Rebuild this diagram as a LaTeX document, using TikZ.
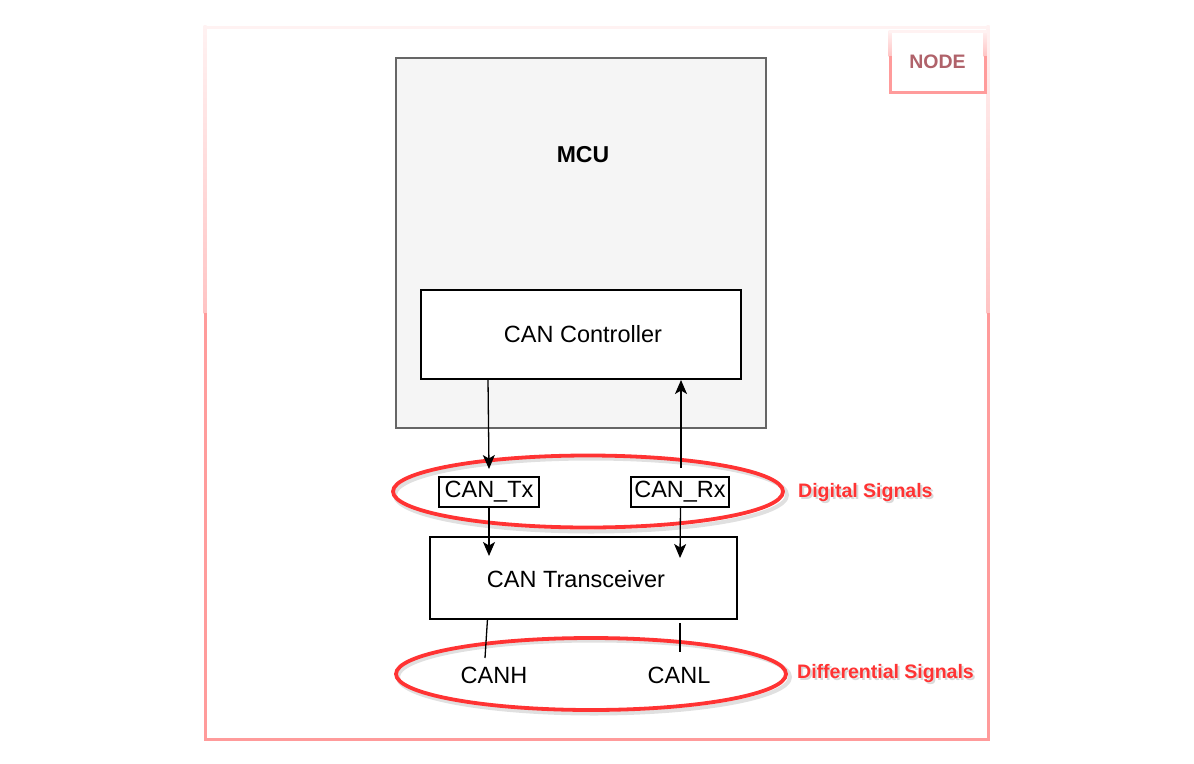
\documentclass[tikz,border=0pt]{standalone}
\usepackage{fontspec}
\setmainfont{Liberation Sans}
\usetikzlibrary{arrows.meta,shapes.geometric}
\definecolor{pinkb}{HTML}{FF9B9B}
\definecolor{pinkl}{HTML}{FFF2F2}
\definecolor{pinkm}{HTML}{FFC4C4}
\definecolor{sigred}{HTML}{FF3333}
\definecolor{nodetxt}{HTML}{B0626A}
\definecolor{mcufill}{HTML}{F5F5F5}
\definecolor{mculine}{HTML}{666666}
\tikzset{
  box/.style={draw=black,line width=1.3pt,fill=white,inner sep=0pt},
  lbl/.style={font=\fontsize{23.5}{26}\selectfont,inner sep=0pt},
  sig/.style={font=\fontsize{19.5}{22}\selectfont\bfseries,text=sigred,inner sep=0pt},
  sigsh/.style={font=\fontsize{19.5}{22}\selectfont\bfseries,text=black,opacity=0.15,inner sep=0pt},
  oval/.style={draw=sigred,line width=3.8pt},
  ovalsh/.style={draw=black,opacity=0.12,line width=4pt},
  arr/.style={-{Stealth[length=14pt,width=12pt,inset=3.5pt]},line width=1.3pt},
  wire/.style={line width=1.3pt}
}
\begin{document}
\begin{tikzpicture}[x=1pt,y=-1pt]
\useasboundingbox (0,0) rectangle (1194,763);
% outer frame with gradient
\shade[top color=pinkl,bottom color=pinkm] (203.5,25.5) rectangle (206.5,313);
\shade[top color=pinkl,bottom color=pinkm] (986.5,25.5) rectangle (989.5,313);
\fill[pinkb] (203.5,313) rectangle (206.5,740.5);
\fill[pinkb] (986.5,313) rectangle (989.5,740.5);
\fill[pinkb] (203.5,737.5) rectangle (989.5,740.5);
\fill[pinkl] (203.5,25.5) rectangle (989.5,28.5);
% NODE tag
\fill[white] (889,30) rectangle (986,92);
\shade[top color=pinkl,bottom color=pinkm] (888.5,30) rectangle (891.5,56);
\shade[top color=pinkl,bottom color=pinkm] (983.5,30) rectangle (986.5,56);
\fill[pinkb] (888.5,56) rectangle (891.5,93.5);
\fill[pinkb] (983.5,56) rectangle (986.5,93.5);
\fill[pinkb] (888.5,90.5) rectangle (986.5,93.5);
\fill[pinkl] (888.5,30) rectangle (986.5,33);
\node[font=\fontsize{19.5}{22}\selectfont\bfseries,text=nodetxt,inner sep=0pt] (tag) at (937.5,62) {NODE};
% MCU
\node[draw=mculine,fill=mcufill,line width=1.3pt,minimum width=370pt,minimum height=370pt,inner sep=0pt] (mcu) at (581,243) {};
\node[font=\fontsize{23}{26}\selectfont\bfseries,inner sep=0pt] (mcut) at (583,155) {MCU};
\node[box,minimum width=320pt,minimum height=89pt] (ctrl) at (581,334.5) {};
\node[lbl] (ctrlt) at (583,334) {CAN Controller};
% signal ellipses
\draw[ovalsh] (591,495) ellipse (196pt and 36.5pt);
\draw[oval] (588,491.5) ellipse (195pt and 36pt);
\draw[ovalsh] (594,677) ellipse (196pt and 36.5pt);
\draw[oval] (591,674) ellipse (195pt and 36pt);
% digital pins
\node[box,minimum width=100pt,minimum height=30pt] (tx) at (489,492) {};
\node[lbl] (txt) at (489,492) {CAN\_Tx};
\node[box,minimum width=98pt,minimum height=30pt] (rx) at (680,492) {};
\node[lbl] (rxt) at (680,492) {CAN\_Rx};
% transceiver
\node[box,minimum width=307pt,minimum height=82pt] (trx) at (583.5,578) {};
\node[lbl] (trxt) at (576,579) {CAN Transceiver};
% differential
\node[lbl] (canh) at (494,675) {CANH};
\node[lbl] (canl) at (679,675) {CANL};
% arrows
\coordinate (a1s) at (488,379);
\coordinate (a1e) at (489,469);
\draw[arr] (a1s) -- (a1e);
\coordinate (a2s) at (681,468);
\coordinate (a2e) at (681,380);
\draw[arr] (a2s) -- (a2e);
\coordinate (a3s) at (489,507);
\coordinate (a3e) at (489,556);
\draw[arr] (a3s) -- (a3e);
\coordinate (a4s) at (680.5,507);
\coordinate (a4e) at (680,558);
\draw[arr] (a4s) -- (a4e);
\coordinate (w1s) at (487.5,619);
\coordinate (w1e) at (485,658);
\draw[wire] (w1s) -- (w1e);
\coordinate (w2s) at (680,623);
\coordinate (w2e) at (680,652);
\draw[wire] (w2s) -- (w2e);
% labels
\node[sigsh,anchor=west] (dsh) at (800,494.5) {Digital Signals};
\node[sig,anchor=west] (dig) at (798,492) {Digital Signals};
\node[sigsh,anchor=west] (fsh) at (799,675.5) {Differential Signals};
\node[sig,anchor=west] (dif) at (797,673) {Differential Signals};
\end{tikzpicture}
\end{document}
